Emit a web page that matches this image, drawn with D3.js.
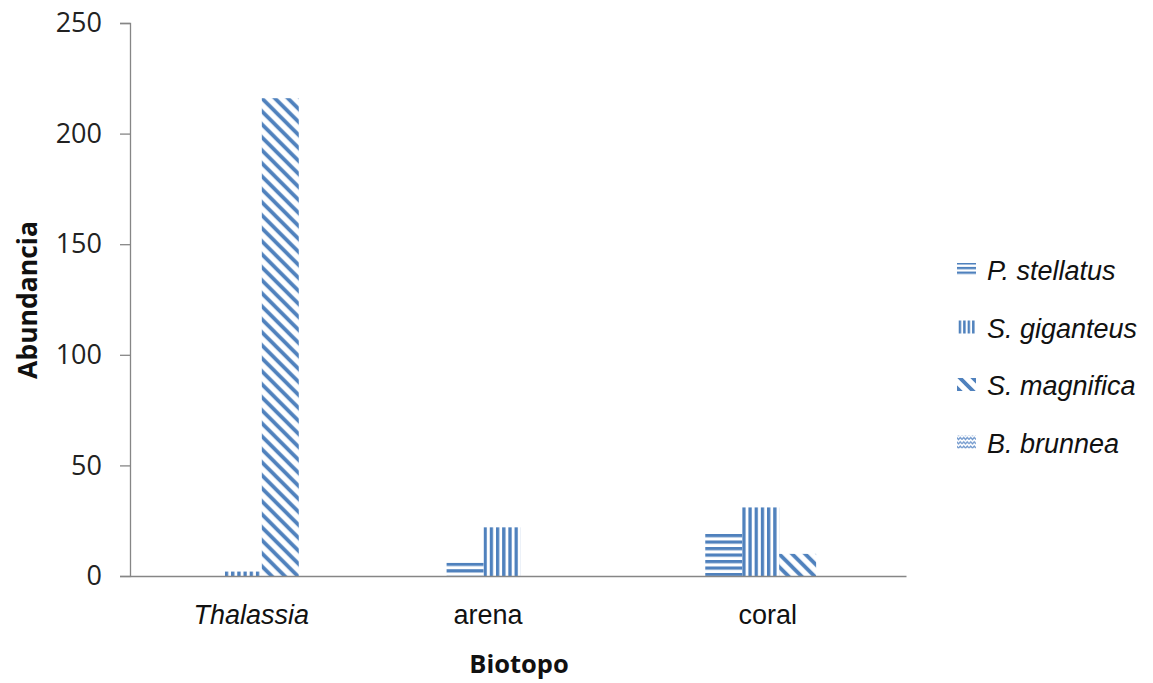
<!DOCTYPE html>
<html>
<head>
<meta charset="utf-8">
<script src="https://cdn.jsdelivr.net/npm/d3@7"></script>
<style>
  html, body { margin: 0; padding: 0; background: #ffffff; }
  svg { display: block; }
</style>
</head>
<body>
<div id="chart"></div>
<script>
// Abundancia por biotopo
const categories = ["Thalassia", "arena", "coral"];
const categoryItalic = [true, false, false];
const series = ["P. stellatus", "S. giganteus", "S. magnifica", "B. brunnea"];
const pStellatus = [0, 6, 19];
const sGiganteus = [2, 22, 31];
const sMagnifica = [216, 0, 10];
const bBrunnea = [0, 0, 0];
const yTicks = [0, 50, 100, 150, 200, 250];

const values = [pStellatus, sGiganteus, sMagnifica, bBrunnea];

const W = 1153, H = 683;
const plot = { left: 130, right: 906, top: 23, bottom: 576 };
const blue = "#4F81BD";

const svg = d3.select("#chart").append("svg")
  .attr("width", W).attr("height", H);
svg.append("rect").attr("width", W).attr("height", H).attr("fill", "#fff");

const defs = svg.append("defs");

// Pattern builders; each tile is anchored at (ox, oy) so stripes start at a bar's corner
function makePattern(id, kind, ox, oy, scale = 1) {
  const p = defs.append("pattern").attr("id", id)
    .attr("patternUnits", "userSpaceOnUse").attr("x", ox).attr("y", oy);
  if (kind === 0) {          // horizontal stripes
    const h = 6.5 * scale;
    p.attr("width", 8).attr("height", h);
    p.append("rect").attr("width", 8).attr("height", h / 2).attr("fill", blue);
  } else if (kind === 1) {   // vertical stripes
    const w = 6.2 * scale;
    p.attr("width", w).attr("height", 8);
    p.append("rect").attr("width", w / 2 + 0.2).attr("height", 8).attr("fill", blue);
  } else if (kind === 2) {   // wide downward diagonal
    p.attr("width", 13).attr("height", 13);
    p.append("path").attr("d", "M-3,-3 L16,16 M-3,10 L3,16 M10,-3 L16,3")
      .attr("stroke", blue).attr("stroke-width", 3.8).attr("fill", "none");
  } else {                   // wave
    p.attr("width", 7).attr("height", 4.3);
    p.append("path").attr("d", "M0,3 L1.75,1 L3.5,3 L5.25,1 L7,3")
      .attr("fill", "none").attr("stroke", "#6F97CC").attr("stroke-width", 1.3);
  }
  return `url(#${id})`;
}

// Scales
const x0 = d3.scaleBand().domain(categories).range([plot.left, plot.right]).paddingInner(0).paddingOuter(0);
const x1 = d3.scaleBand().domain(series).range([2.5, x0.bandwidth() + 2.5]).paddingInner(0).paddingOuter(1.5);
const y = d3.scaleLinear().domain([0, 250]).range([plot.bottom, plot.top]);

// Bars
const bars = [];
categories.forEach((c, ci) => series.forEach((s, si) => {
  const v = values[si][ci];
  if (v > 0) bars.push({ c, ci, s, si, v, x: x0(c) + x1(s), y: y(v) });
}));

svg.append("g").selectAll("rect").data(bars).join("rect")
  .attr("x", d => d.x)
  .attr("width", x1.bandwidth())
  .attr("y", d => d.y)
  .attr("height", d => y(0) - d.y)
  .attr("fill", d => makePattern(`bar-${d.ci}-${d.si}`, d.si, d.x, d.y));

// Y axis
const yAxis = svg.append("g").attr("transform", `translate(${plot.left},0)`)
  .call(d3.axisLeft(y).tickValues(yTicks).tickSize(10).tickPadding(18).tickFormat(d3.format("d")));
yAxis.select(".domain").attr("stroke", "#868686").attr("stroke-width", 1.3);
yAxis.selectAll(".tick line").attr("stroke", "#868686").attr("stroke-width", 1.3);
yAxis.selectAll(".tick text")
  .attr("font-family", "'Open Sans', sans-serif").attr("font-size", 27).attr("fill", "#222");

// X axis
const xAxis = svg.append("g").attr("transform", `translate(0,${plot.bottom})`)
  .call(d3.axisBottom(x0).tickSize(0).tickPadding(29));
xAxis.select(".domain").attr("stroke", "#868686").attr("stroke-width", 1.3);
const labelNudge = [-8, -30, -9];
xAxis.selectAll(".tick text")
  .attr("font-family", "'Liberation Sans', Arial, sans-serif").attr("font-size", 27).attr("fill", "#111")
  .attr("font-style", (d, i) => categoryItalic[i] ? "italic" : "normal")
  .attr("dx", (d, i) => labelNudge[i]);

// Axis titles
svg.append("text").attr("x", 519).attr("y", 673)
  .attr("text-anchor", "middle")
  .attr("font-family", "'Open Sans', sans-serif").attr("font-weight", "bold").attr("font-size", 25.5)
  .attr("fill", "#111").text("Biotopo");

svg.append("text").attr("transform", "translate(37,300) rotate(-90)")
  .attr("text-anchor", "middle")
  .attr("font-family", "'Open Sans', sans-serif").attr("font-weight", "bold").attr("font-size", 26.5)
  .attr("fill", "#111").text("Abundancia");

// Legend
const legend = svg.append("g").attr("transform", "translate(957,280)");
const item = legend.selectAll("g").data(series).join("g")
  .attr("transform", (d, i) => `translate(0,${i * 57.5})`);
item.append("rect").attr("x", 0).attr("y", -17).attr("width", 19).attr("height", 13)
  .attr("fill", (d, i) => makePattern(`leg-${i}`, i, 957, 280 + i * 57.5 - 17, 0.72));
item.append("text").attr("x", 30).attr("y", 0)
  .attr("font-family", "'Liberation Sans', Arial, sans-serif").attr("font-style", "italic")
  .attr("font-size", 27).attr("fill", "#111").text(d => d);
</script>
</body>
</html>
